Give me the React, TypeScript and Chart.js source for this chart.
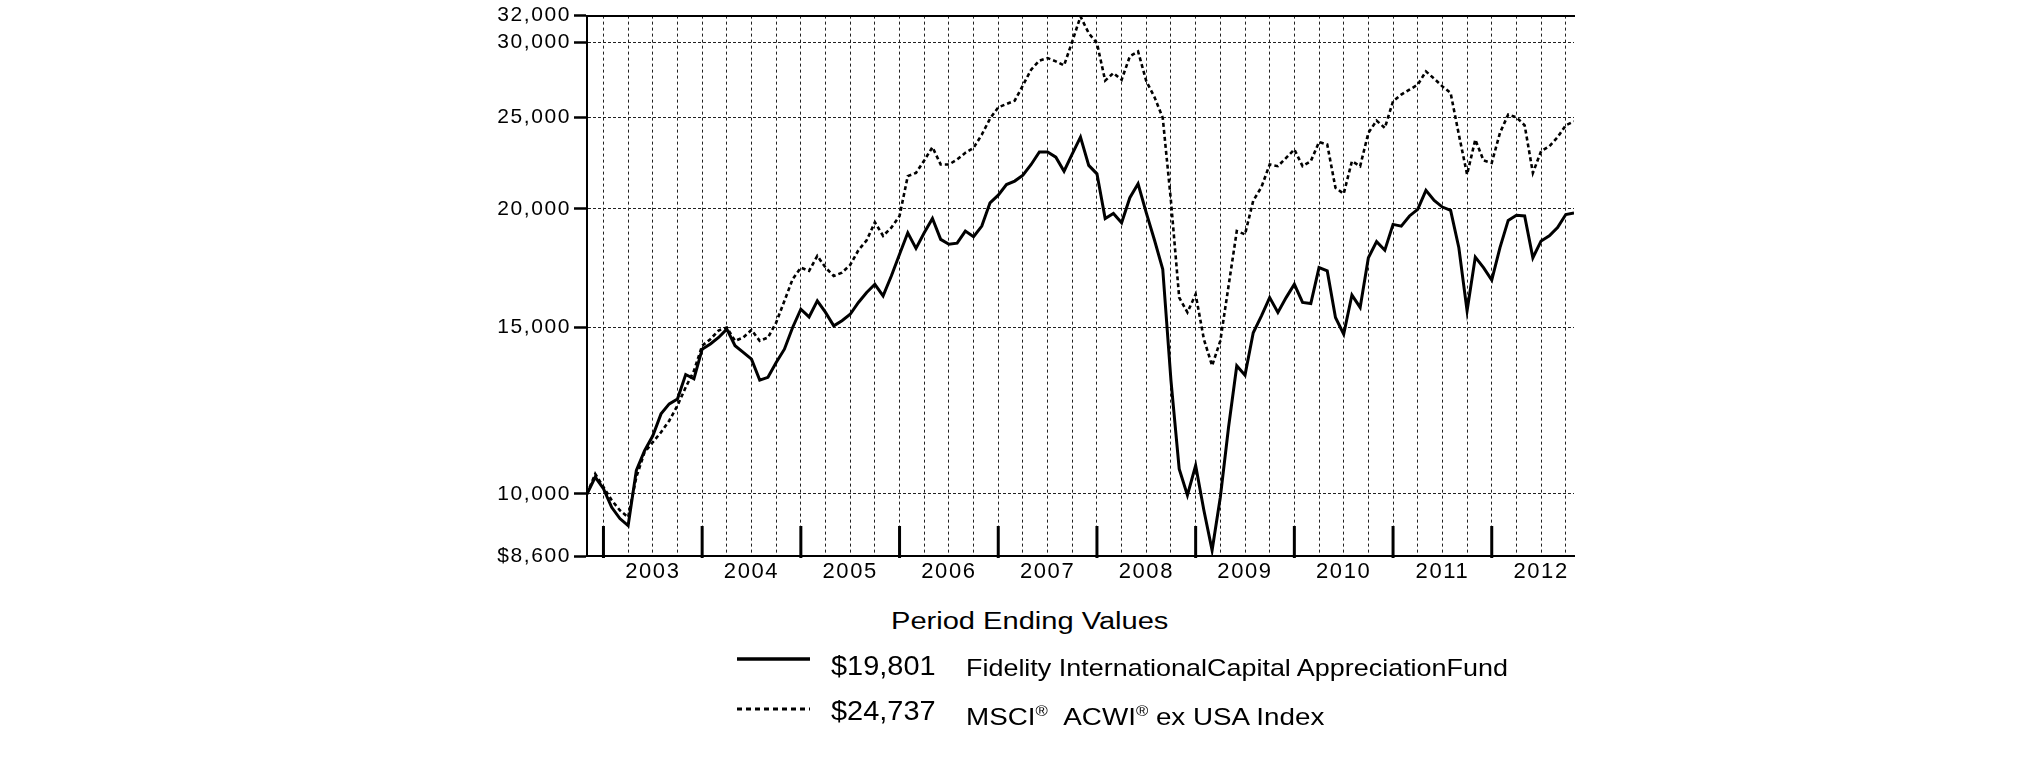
import React, { useEffect, useLayoutEffect, useRef, useState } from "react";
import { Chart, registerables } from "chart.js";

Chart.register(...registerables);

// Month index 0 = Oct 2002 (start, $10,000) ... index 120 = Oct 2012
const FUND: number[] = [
  10000, 10420, 10130, 9680, 9420, 9260, 10590, 11110, 11520, 12150,
  12450, 12600, 13370, 13230, 14220, 14400, 14630, 14930, 14340, 14110,
  13880, 13190, 13280, 13770, 14220, 14990, 15670, 15380, 15990, 15550,
  15050, 15240, 15480, 15930, 16320, 16650, 16190, 16990, 17910, 18870,
  18170, 18870, 19540, 18570, 18350, 18400, 18950, 18690, 19180, 20300,
  20680, 21220, 21400, 21710, 22280, 22970, 22970, 22680, 21920, 22860,
  23810, 22230, 21780, 19540, 19780, 19340, 20550, 21260, 19810, 18530,
  17270, 13170, 10630, 9970, 10720, 9610, 8720, 9920, 11760, 13660,
  13350, 14800, 15420, 16120, 15550, 16120, 16650, 15930, 15890, 17340,
  17200, 15360, 14750, 16220, 15740, 17760, 18470, 18090, 19260, 19180,
  19660, 19980, 20920, 20420, 20090, 19930, 18200, 15610, 17790, 17340,
  16820, 18200, 19450, 19690, 19660, 17760, 18500, 18730, 19110, 19730,
  19801,
];

const INDEX: number[] = [
  10000, 10500, 10170, 9850, 9610, 9450, 10420, 11070, 11340, 11620,
  11950, 12400, 12960, 13490, 14340, 14570, 14880, 14990, 14510, 14630,
  14900, 14510, 14630, 15170, 15990, 16860, 17340, 17200, 17840, 17340,
  16990, 17130, 17450, 18090, 18530, 19360, 18730, 19110, 19660, 21660,
  21830, 22500, 23240, 22280, 22280, 22550, 22920, 23200, 23960, 24910,
  25600, 25810, 26020, 27010, 28060, 28680, 28860, 28630, 28350, 30050,
  31930, 30660, 29930, 27320, 27830, 27380, 28980, 29330, 27280, 26240,
  24950, 20380, 16120, 15550, 16250, 14570, 13660, 14510, 16580, 18950,
  18800, 20400, 21090, 22280, 22190, 22640, 23110, 22190, 22460, 23530,
  23390, 21050, 20750, 22460, 22190, 24060, 24790, 24350, 25980, 26410,
  26730, 27050, 27940, 27450, 26940, 26510, 23960, 21750, 23670, 22500,
  22370, 24060, 25160, 24990, 24510, 21830, 23010, 23290, 23810, 24510,
  24737,
];

const Y_TICKS: number[] = [8600, 10000, 15000, 20000, 25000, 30000, 32000];
const Y_TICK_LABELS: string[] = ["$8,600", "10,000", "15,000", "20,000", "25,000", "30,000", "32,000"];
const YEAR_LABELS: string[] = ["2003", "2004", "2005", "2006", "2007", "2008", "2009", "2010", "2011", "2012"];

const LEGEND_TITLE = "Period Ending Values";
const FUND_END = "$19,801";
const INDEX_END = "$24,737";
const FUND_NAME = "Fidelity InternationalCapital AppreciationFund";

// month index of first December (Dec 2002) and first June (Jun 2003)
const FIRST_DEC = 2;
const FIRST_JUN = 8;
const LAST_INDEX = FUND.length - 1;
const QUARTERS: number[] = [];
for (let m = FIRST_DEC; m <= LAST_INDEX; m += 3) QUARTERS.push(m);

const FONT = "'Liberation Sans', Arial, Helvetica, sans-serif";

const spacingPlugin = {
  id: "spacing",
  beforeDraw(chart: any) {
    chart.ctx.letterSpacing = "1.6px";
  },
  afterDraw(chart: any) {
    chart.ctx.letterSpacing = "0px";
  },
};

const yearTickPlugin = {
  id: "yearTicks",
  afterDatasetsDraw(chart: any) {
    const xs = chart.scales.x;
    const { bottom } = chart.chartArea;
    const ctx = chart.ctx;
    ctx.save();
    ctx.strokeStyle = "#000";
    ctx.lineWidth = 3;
    ctx.setLineDash([]);
    YEAR_LABELS.forEach((_, k) => {
      const px = xs.getPixelForValue(FIRST_DEC + 12 * k);
      ctx.beginPath();
      ctx.moveTo(px, bottom + 2);
      ctx.lineTo(px, bottom - 30);
      ctx.stroke();
    });
    ctx.restore();
  },
};

function FitText(props: { left: number; baseline: number; size: number; width: number; children: any }) {
  const ref = useRef<HTMLSpanElement>(null);
  const [sx, setSx] = useState(1);
  useLayoutEffect(() => {
    if (ref.current) {
      const w = ref.current.offsetWidth;
      if (w > 0) setSx(props.width / w);
    }
  }, [props.width]);
  return (
    <span
      ref={ref}
      style={{
        position: "absolute",
        left: props.left,
        top: props.baseline - 0.8465 * props.size,
        fontSize: props.size,
        lineHeight: `${props.size}px`,
        fontFamily: FONT,
        whiteSpace: "nowrap",
        color: "#000",
        transformOrigin: "0 0",
        transform: `scaleX(${sx})`,
      }}
    >
      {props.children}
    </span>
  );
}

export default function App() {
  const canvasRef = useRef<HTMLCanvasElement>(null);

  useEffect(() => {
    if (!canvasRef.current) return;
    const chart = new Chart(canvasRef.current, {
      type: "line",
      data: {
        datasets: [
          {
            label: FUND_NAME,
            data: FUND.map((y, i) => ({ x: i, y })),
            borderColor: "#000",
            borderWidth: 3,
            pointRadius: 0,
            tension: 0,
            fill: false,
          },
          {
            label: "MSCI ACWI ex USA Index",
            data: INDEX.map((y, i) => ({ x: i, y })),
            borderColor: "#000",
            borderWidth: 2.6,
            borderDash: [4, 3],
            pointRadius: 0,
            tension: 0,
            fill: false,
          },
        ],
      },
      options: {
        animation: false,
        responsive: true,
        maintainAspectRatio: false,
        layout: { padding: { left: 487, right: 451, top: 14, bottom: 0 } },
        plugins: { legend: { display: false }, tooltip: { enabled: false } },
        scales: {
          x: {
            type: "linear",
            position: "bottom",
            min: 0,
            max: LAST_INDEX,
            afterBuildTicks: (s: any) => {
              s.ticks = QUARTERS.map((v) => ({ value: v }));
            },
            afterFit: (s: any) => {
              s.height = 44;
            },
            grid: { color: "#222", lineWidth: 1, drawTicks: false },
            border: { display: true, color: "#000", width: 2, dash: [3, 3] },
            ticks: {
              autoSkip: false,
              maxRotation: 0,
              minRotation: 0,
              padding: 3,
              color: "#000",
              font: { family: FONT, size: 22 },
              callback: (v: any) => {
                const n = Number(v);
                const k = (n - FIRST_JUN) / 12;
                return Number.isInteger(k) && k >= 0 && k < YEAR_LABELS.length ? YEAR_LABELS[k] : "";
              },
            },
          },
          xTop: {
            type: "linear",
            position: "top",
            min: 0,
            max: LAST_INDEX,
            grid: { display: false, drawTicks: false },
            ticks: { display: false },
            border: { display: true, color: "#000", width: 2 },
            afterFit: (s: any) => {
              s.height = 0;
            },
          },
          y: {
            type: "logarithmic",
            min: Y_TICKS[0],
            max: Y_TICKS[Y_TICKS.length - 1],
            afterBuildTicks: (s: any) => {
              s.ticks = Y_TICKS.map((v) => ({ value: v }));
            },
            afterFit: (s: any) => {
              s.width = 100;
            },
            grid: {
              color: (c: any) =>
                c.tick && (c.tick.value === Y_TICKS[0] || c.tick.value === Y_TICKS[Y_TICKS.length - 1])
                  ? "rgba(0,0,0,0)"
                  : "#222",
              lineWidth: 1,
              drawTicks: true,
              tickLength: 13,
              tickWidth: 2.5,
              tickColor: "#000",
              tickBorderDash: [],
            },
            border: { display: true, color: "#000", width: 2, dash: [3, 2] },
            ticks: {
              padding: 3,
              color: "#000",
              font: { family: FONT, size: 21 },
              callback: (v: any) => {
                const i = Y_TICKS.indexOf(Number(v));
                return i >= 0 ? Y_TICK_LABELS[i] : "";
              },
            },
          },
        },
      } as any,
      plugins: [spacingPlugin, yearTickPlugin],
    });
    return () => chart.destroy();
  }, []);

  return (
    <div style={{ position: "absolute", left: 0, top: 0, width: 2025, height: 761, background: "#fff" }}>
      <div style={{ position: "absolute", left: 0, top: 0, width: 2025, height: 600 }}>
        <canvas ref={canvasRef} />
      </div>
      <FitText left={891} baseline={629} size={23} width={278}>
        {LEGEND_TITLE}
      </FitText>
      <svg style={{ position: "absolute", left: 0, top: 0 }} width={2025} height={761}>
        <line x1={737} x2={810} y1={659} y2={659} stroke="#000" strokeWidth={3.5} />
        <line x1={737} x2={810} y1={709} y2={709} stroke="#000" strokeWidth={3} strokeDasharray="5 4" />
      </svg>
      <FitText left={831} baseline={676} size={27} width={105}>
        {FUND_END}
      </FitText>
      <FitText left={966} baseline={676} size={24} width={542}>
        {FUND_NAME}
      </FitText>
      <FitText left={831} baseline={721} size={27} width={105}>
        {INDEX_END}
      </FitText>
      <FitText left={966} baseline={719} size={24} width={358}>
        MSCI<span style={{ fontSize: "0.6em", verticalAlign: "0.6em" }}>®</span>
        {"\u00a0\u00a0"}ACWI<span style={{ fontSize: "0.6em", verticalAlign: "0.6em" }}>®</span> ex USA Index
      </FitText>
    </div>
  );
}
